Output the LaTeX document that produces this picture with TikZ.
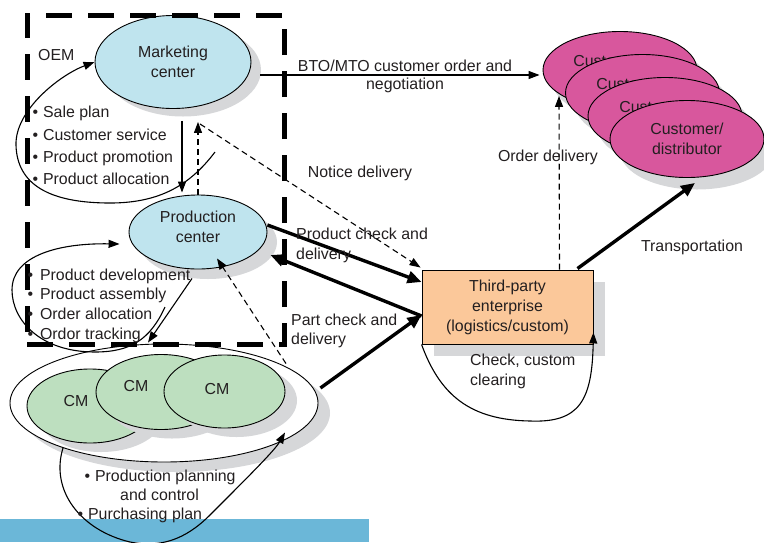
\documentclass[tikz,border=0pt]{standalone}
\usepackage{fontspec}
\setmainfont{Liberation Sans}
\usetikzlibrary{shapes.geometric,arrows.meta,calc,shadows}
\definecolor{txtc}{HTML}{231F20}
\definecolor{bluefill}{HTML}{BFE4EE}
\definecolor{greenfill}{HTML}{BDDFBF}
\definecolor{pinkfill}{HTML}{D8579D}
\definecolor{orangefill}{HTML}{FBC89A}
\definecolor{shadowc}{HTML}{D6D7D9}
\definecolor{bandc}{HTML}{6BB7D8}

\begin{document}
\begin{tikzpicture}[x=1pt,y=-1pt,
  every node/.style={font=\fontsize{15.9}{19.5}\selectfont,text=txtc},
  dropsh/.style args={#1/#2}{drop shadow={shadow xshift=#1pt,shadow yshift=-#2pt,fill=shadowc,opacity=1}},
  ellbox/.style={ellipse,draw,line width=0.9pt,inner sep=0pt,align=center},
  custell/.style={ellbox,fill=pinkfill,minimum width=154pt,minimum height=77pt,dropsh=10/12},
  lbl/.style={inner sep=0pt},
  oembox/.style={draw,line width=5pt,dash pattern=on 26pt off 16pt,inner sep=0pt},
  thinarr/.style={line width=1.1pt,-{Triangle[length=11pt,width=8pt]}},
  thickarr/.style={line width=3.4pt,-{Triangle[length=14pt,width=12pt]}},
  dashln/.style={line width=1.1pt,dash pattern=on 6pt off 4pt},
  dasharr/.style={dashln,-{Triangle[length=11pt,width=8pt]}}
]
\useasboundingbox (0,0) rectangle (764,542);

% bottom band
\fill[bandc] (0,519) rectangle (369,542);

% contract manufacturers
\node[ellbox,fill=white,minimum width=308pt,minimum height=118pt,dropsh=12/10] (cmg) at (164,403) {};
\node[ellbox,fill=greenfill,minimum width=126pt,minimum height=74pt,dropsh=11/9] (cm1) at (90,406) {};
\node[ellbox,fill=greenfill,minimum width=130pt,minimum height=75pt,dropsh=11/9] (cm2) at (161,392) {};
\node[ellbox,fill=greenfill,minimum width=121pt,minimum height=73pt,dropsh=12/9] (cm3) at (224.5,391.5) {};
\node[lbl] (cm1lbl) at (76,401) {CM};
\node[lbl] (cm2lbl) at (136,386) {CM};
\node[lbl] (cm3lbl) at (217,389) {CM};

% OEM centres
\node[ellbox,fill=bluefill,minimum width=156pt,minimum height=93pt,dropsh=10/8] (mkt) at (173,62) {Marketing\\center};
\node[ellbox,fill=bluefill,minimum width=138pt,minimum height=74pt,dropsh=10/10] (prod) at (198,232) {};
\node[lbl,align=center] (prodlbl) at (198,227) {Production\\center};

% third-party enterprise
\node[rectangle,draw,line width=0.9pt,fill=orangefill,minimum width=171pt,minimum height=74pt,
      align=center,inner sep=0pt,dropsh=11.5/11.5,font=\fontsize{15.9}{20}\selectfont]
      (tp) at (507.5,307) {Third-party\\enterprise\\(logistics/custom)};

% customers / distributors, stacked back to front
\node[custell] (e1) at (620,70) {};
\node[lbl,align=center] (e1lbl) at (610,71) {Customer/\\distributor};
\node[custell] (e2) at (642.5,93) {};
\node[lbl,align=center] (e2lbl) at (633,94) {Customer/\\distributor};
\node[custell] (e3) at (665,116) {};
\node[lbl,align=center] (e3lbl) at (656,117) {Customer/\\distributor};
\node[custell] (e4) at (687,139) {Customer/\\distributor};

% OEM boundary
\node[oembox,minimum width=257pt,minimum height=329pt] (oem) at (155.5,179.5) {};
\node[lbl,anchor=west] (oemlbl) at (38,55) {OEM};

% connectors
\draw[thinarr] ($(mkt.east)+(9,13)$) -- ($(e1.west)+(-3,5)$);
\draw[thinarr] ($(mkt.south)+(9,12)$) -- ($(prod.north)+(-16,-2)$);
\draw[dasharr] (prod.north) -- ($(mkt.south)+(25,13)$);
\draw[dasharr] ($(mkt.south)+(27,15)$) -- ($(tp.north west)+(-1,-2)$);
\draw[thickarr] ($(prod.east)+(0,-7)$) -- ($(tp.west)+(0,-25)$);
\draw[thickarr] ($(tp.west)+(0,9)$) -- ($(prod.east)+(3,23)$);
\draw[thickarr] ($(cmg.east)+(2,-15)$) -- ($(tp.west)+(0,8)$);
\draw[dasharr] ($(cmg.north)+(122,20)$) -- ($(prod.south)+(19,-11)$);
\draw[thinarr] ($(prod.south)+(-6,9)$) -- ($(cmg.north)+(-16,-1)$);
\draw[dasharr] ($(tp.north)+(52,0)$) -- ($(e1.south)+(-61,-13)$);
\draw[thickarr] ($(tp.north)+(70,-1)$) -- ($(e4.south)+(8,5)$);

% self loops
\coordinate (mloop) at (215,152);
\draw[thinarr] (mloop) .. controls (190,185) and (160,203) .. (110,203)
  .. controls (50,203) and (17,185) .. (16,145)
  .. controls (15,110) and (60,75) .. (mkt.west);
\coordinate (ploop) at (165,307);
\draw[thinarr] (ploop) .. controls (150,340) and (130,352) .. (95,352)
  .. controls (40,352) and (12,320) .. (12,290)
  .. controls (12,255) and (60,243) .. ($(prod.west)+(-9,12)$);
\coordinate (cloop) at (63,448);
\draw[thinarr] (cloop) .. controls (50,490) and (80,530) .. (130,542)
  .. controls (160,548) and (185,540) .. (210,515)
  .. controls (250,475) and (275,450) .. ($(cmg.south)+(121,-30)$);
\draw[thinarr] (tp.south west) .. controls (440,395) and (470,420) .. (530,421)
  .. controls (580,423) and (592,400) .. ($(tp.south east)+(0,-12)$);

% connector labels
\node[lbl,align=center,font=\fontsize{15.9}{18}\selectfont] (btolbl) at (405,76) {BTO/MTO customer order and\\negotiation};
\node[lbl] (noticelbl) at (360,173) {Notice delivery};
\node[lbl] (orderlbl) at (548,157) {Order delivery};
\node[lbl] (translbl) at (692,247) {Transportation};
\node[lbl,anchor=west,align=left] (pcdlbl) at (296,245.5) {Product check and\\delivery};
\node[lbl,anchor=west,align=left] (partlbl) at (291,331) {Part check and\\delivery};
\node[lbl,anchor=west,align=left] (cclbl) at (470,371.5) {Check, custom\\clearing};

% task lists
\node[lbl,anchor=west,align=left,font=\fontsize{15.9}{22.3}\selectfont] (mktlist) at (32.3,145.5)
  {\textbullet\hspace{5pt}Sale plan\\\textbullet\hspace{5pt}Customer service\\\textbullet\hspace{5pt}Product promotion\\\textbullet\hspace{5pt}Product allocation};
\node[lbl,anchor=west,align=left,font=\fontsize{15.9}{19.7}\selectfont] (prodlist) at (27.3,305.5)
  {\textbullet\hspace{7pt}Product development\\\textbullet\hspace{7pt}Product assembly\\\textbullet\hspace{7pt}Order allocation\\\textbullet\hspace{7pt}Ordor tracking};
\node[lbl,anchor=west] (cml1) at (84.3,477) {\textbullet\hspace{5pt}Production planning};
\node[lbl,anchor=west] (cml2) at (120,495) {and control};
\node[lbl,anchor=west] (cml3) at (77.3,515) {\textbullet\hspace{5pt}Purchasing plan};
\end{tikzpicture}
\end{document}
